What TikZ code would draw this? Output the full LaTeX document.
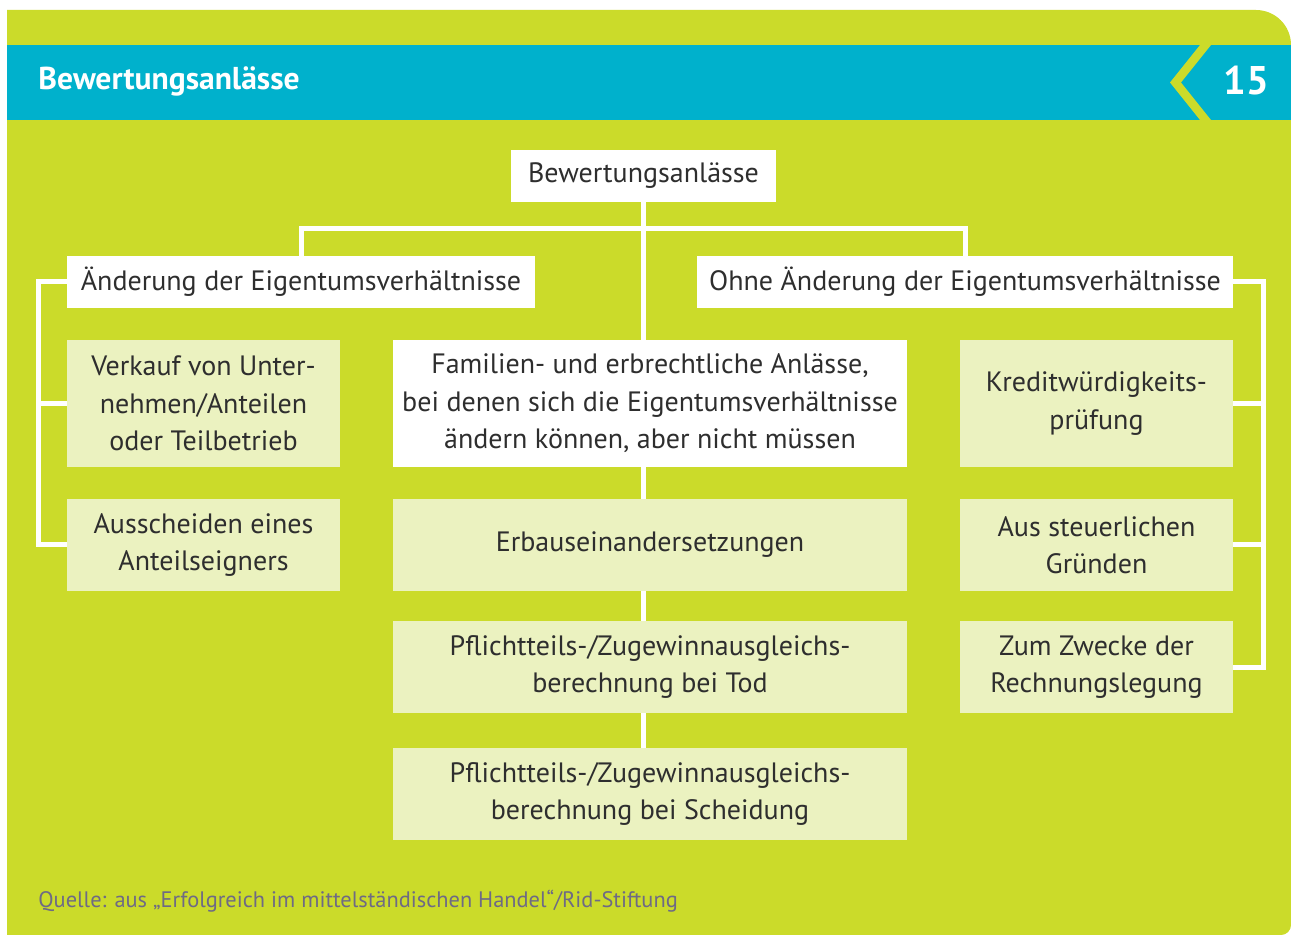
\documentclass[tikz,border=0pt]{standalone}
\usepackage{fontspec}
\setmainfont{PT Sans}
\usepackage{tikz}
\usetikzlibrary{positioning,calc}
\definecolor{gruen}{RGB}{203,219,42}
\definecolor{blau}{RGB}{0,177,204}
\definecolor{hellgruen}{RGB}{235,242,192}
\definecolor{schrift}{RGB}{46,46,46}
\definecolor{quelle}{RGB}{110,106,133}

\begin{document}
\begin{tikzpicture}[x=0.5pt, y=-0.5pt,
            every node/.style={inner sep=0pt, align=center, text=schrift,
                font=\fontsize{14}{18.75}\selectfont},
            weiss/.style={fill=white},
            hell/.style={fill=hellgruen},
            schmal/.style={minimum width=136.5pt},
            breit/.style={minimum width=257pt},
            zeile/.style={minimum height=26pt},
            zwei/.style={minimum height=46pt},
            drei/.style={minimum height=63.5pt},
            verbinder/.style={draw=white, line width=2.5pt, line join=miter}]
        \useasboundingbox (0,0) rectangle (1291,935);
        \fill[gruen] (7,935) -- (7,10) [rounded corners=17.5pt] -- (1291,10)
            [rounded corners=5pt] -- (1291,935) [sharp corners] -- cycle;
        \fill[blau] (7,45) rectangle (1291,120);
        \fill[gruen] (1200,45) -- (1211,45) -- (1181,82.5) -- (1211,120)
            -- (1200,120) -- (1170,82.5) -- cycle;
        \node[anchor=west, text=white, font=\fontsize{15.8}{18}\selectfont\bfseries]
            (titel) at (38,81) {Bewertungsanlässe};
        \node[text=white, font=\fontsize{20}{24}\selectfont\bfseries]
            (nummer) at (1246,81) {15};

        \node[weiss, zeile, minimum width=132.5pt] (root) at (643.5,176) {Bewertungsanlässe};
        \node[weiss, zeile, minimum width=234pt] (aend) at (301,282)
            {Änderung der Eigentumsverhältnisse};
        \node[weiss, zeile, minimum width=268pt] (ohne) at (965,282)
            {Ohne Änderung der Eigentumsverhältnisse};

        \node[hell, schmal, drei] (verkauf) at (203.5,403.5)
            {Verkauf von Unter-\\nehmen/Anteilen\\oder Teilbetrieb};
        \node[hell, schmal, zwei] (aussch) at (203.5,545)
            {Ausscheiden eines\\Anteilseigners};

        \node[weiss, breit, drei] (familien) at (650,403.5)
            {Familien- und erbrechtliche Anlässe,\\bei denen sich die Eigentumsverhältnisse\\ändern können, aber nicht müssen};
        \node[hell, breit, zwei] (erb) at (650,545) {Erbauseinandersetzungen};
        \node[hell, breit, zwei] (tod) at (650,667)
            {Pflichtteils-/Zugewinnausgleichs-\\berechnung bei Tod};
        \node[hell, breit, zwei] (scheid) at (650,794)
            {Pflichtteils-/Zugewinnausgleichs-\\berechnung bei Scheidung};

        \node[hell, schmal, drei] (kredit) at (1096.5,403.5)
            {Kreditwürdigkeits-\\prüfung};
        \node[hell, schmal, zwei] (steuer) at (1096.5,545)
            {Aus steuerlichen\\Gründen};
        \node[hell, schmal, zwei] (zweck) at (1096.5,667)
            {Zum Zwecke der\\Rechnungslegung};

        \node[anchor=west, text=quelle, font=\fontsize{11.2}{13}\selectfont] (quelle) at (38,901)
            {Quelle: aus „Erfolgreich im mittelständischen Handel“/Rid-Stiftung};

        \coordinate (ast) at (643.5,229);
        \coordinate (lk) at (38,0);
        \coordinate (rk) at (1263,0);

        \draw[verbinder] (root.south) -- (root.south |- familien.north);
        \draw[verbinder] (aend.north) |- (ast) -| (ohne.north);
        \draw[verbinder] (familien.south -| root.south) -- (erb.north -| root.south);
        \draw[verbinder] (erb.south -| root.south) -- (tod.north -| root.south);
        \draw[verbinder] (tod.south -| root.south) -- (scheid.north -| root.south);

        \draw[verbinder] (aend.west) -| (lk |- aussch.west) -- (aussch.west);
        \draw[verbinder] (lk |- verkauf.west) -- (verkauf.west);

        \draw[verbinder] (ohne.east) -| (rk |- zweck.east) -- (zweck.east);
        \draw[verbinder] (rk |- kredit.east) -- (kredit.east);
        \draw[verbinder] (rk |- steuer.east) -- (steuer.east);
\end{tikzpicture}
\end{document}
